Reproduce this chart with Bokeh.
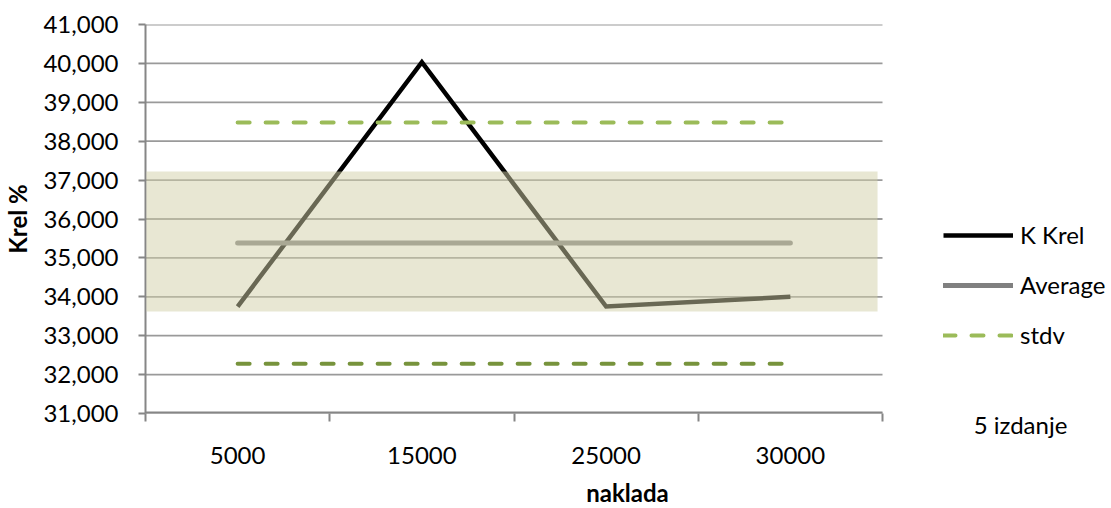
from bokeh.plotting import figure
from bokeh.models import (Range1d, FixedTicker, BoxAnnotation, Legend, LegendItem)
from bokeh.embed import file_html
from bokeh.resources import INLINE

# ---- data ----
categories = ["5000", "15000", "25000", "30000"]
k_krel = [33.75, 40.03, 33.75, 34.00]
average = [35.38, 35.38, 35.38, 35.38]
stdv_upper = [38.48, 38.48, 38.48, 38.48]
stdv_lower = [32.28, 32.28, 32.28, 32.28]
y_ticks = [31, 32, 33, 34, 35, 36, 37, 38, 39, 40, 41]
y_tick_labels = ["31,000", "32,000", "33,000", "34,000", "35,000", "36,000",
                 "37,000", "38,000", "39,000", "40,000", "41,000"]
band_low, band_high = 33.62, 37.22
note_text = "5 izdanje"

FONT = "Lato"
FS = "24px"
n = len(categories)
x_pos = [i + 0.5 for i in range(n)]

# plot area spans n categories over 737px; frame extended to the right for legend
PLOT_W = 737
FRAME_W = 964
x_end = n * FRAME_W / PLOT_W
note_x = 4.749

p = figure(frame_width=FRAME_W, frame_height=389,
           x_range=Range1d(0, x_end), y_range=Range1d(31, 41),
           output_backend="svg", toolbar_location=None,
           min_border_left=145, min_border_top=24, min_border_right=0,
           min_border_bottom=95)
p.outline_line_color = None
p.background_fill_color = "white"
p.border_fill_color = "white"

# gridlines limited to the plot area
p.segment(x0=0, x1=n, y0=y_ticks, y1=y_ticks, line_color="#9A9A9A", line_width=1.8)
# x axis line (limited to plot area)
p.segment(x0=0, x1=n, y0=y_ticks[0], y1=y_ticks[0], line_color="#868686", line_width=4)

# lines
r_k = p.line(x_pos, k_krel, line_color="black", line_width=4.5, line_join="miter")
r_avg = p.line(x_pos, average, line_color="#808080", line_width=5, line_cap="round")
r_su = p.line(x_pos, stdv_upper, line_color="#9BBB59", line_width=4,
              line_dash="12 16", line_cap="round")
r_sl = p.line(x_pos, stdv_lower, line_color="#77933C", line_width=4,
              line_dash="12 16", line_cap="round")

# shaded band (semi-transparent overlay)
band = BoxAnnotation(left=0.005, right=3.973, bottom=band_low, top=band_high,
                     fill_color="#D2D0A7", fill_alpha=0.5, line_color=None)
p.add_layout(band)

# y axis
p.yaxis.ticker = FixedTicker(ticks=y_ticks)
p.yaxis.major_label_overrides = {t: l for t, l in zip(y_ticks, y_tick_labels)}
p.yaxis.axis_line_color = "#868686"
p.yaxis.axis_line_width = 2
p.yaxis.major_tick_line_color = "#868686"
p.yaxis.major_tick_line_width = 2
p.yaxis.major_tick_out = 7
p.yaxis.major_tick_in = 0
p.yaxis.minor_tick_line_color = None
p.yaxis.major_label_standoff = 20
p.yaxis.major_label_text_font = FONT
p.yaxis.major_label_text_font_size = FS
p.yaxis.major_label_text_color = "black"
p.yaxis.axis_label = "Krel %"
p.yaxis.axis_label_text_font = FONT
p.yaxis.axis_label_text_font_size = FS
p.yaxis.axis_label_text_font_style = "bold"
p.yaxis.axis_label_text_color = "black"
p.yaxis.axis_label_standoff = 8

# x axis: category labels on the second line, note on the first line
x_labels = {x: "\n" + c for x, c in zip(x_pos, categories)}
x_labels[note_x] = note_text + "\n"
p.xaxis.ticker = FixedTicker(ticks=x_pos + [note_x], minor_ticks=list(range(n + 1)))
p.xaxis.major_label_overrides = x_labels
p.xaxis.axis_line_color = None
p.xaxis.major_tick_line_color = None
p.xaxis.major_tick_out = 0
p.xaxis.major_tick_in = 0
p.xaxis.minor_tick_line_color = "#868686"
p.xaxis.minor_tick_line_width = 2
p.xaxis.minor_tick_out = 8
p.xaxis.minor_tick_in = 0
p.xaxis.major_label_standoff = -12
p.xaxis.major_label_text_line_height = 1.05
p.xaxis.major_label_text_font = FONT
p.xaxis.major_label_text_font_size = FS
p.xaxis.major_label_text_color = "black"
p.xaxis.axis_label = "naklada"
p.xaxis.axis_label_text_font = FONT
p.xaxis.axis_label_text_font_size = FS
p.xaxis.axis_label_text_font_style = "bold"
p.xaxis.axis_label_text_color = "black"
p.xaxis.axis_label_standoff = 6

# grid
p.xgrid.grid_line_color = None
p.ygrid.grid_line_color = None

# legend
legend = Legend(items=[LegendItem(label="K Krel", renderers=[r_k]),
                       LegendItem(label="Average", renderers=[r_avg]),
                       LegendItem(label="stdv", renderers=[r_su])],
                location=(798, 64), padding=0, margin=0, border_line_color=None,
                background_fill_alpha=0, glyph_width=70, glyph_height=28,
                label_height=28, label_standoff=7, spacing=21,
                label_text_font=FONT, label_text_font_size=FS,
                label_text_color="black")
p.add_layout(legend)

open("out.html", "w").write(file_html(p, INLINE))
